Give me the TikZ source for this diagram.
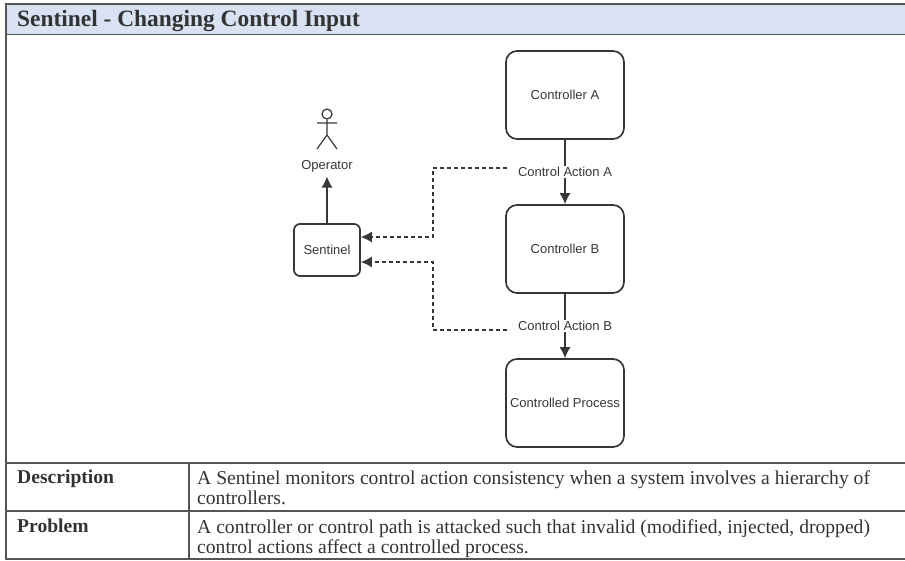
\documentclass[tikz,border=0pt]{standalone}
\usepackage{fontspec}
\setmainfont{Liberation Serif}
\setsansfont{Liberation Sans}
\usepackage[dvipsnames]{xcolor}
\usepackage{tikz}
\usetikzlibrary{arrows.meta}
\definecolor{headblue}{RGB}{217,226,243}
\definecolor{rule}{RGB}{85,85,85}
\definecolor{ink}{RGB}{55,55,55}

\begin{document}
\begin{tikzpicture}[x=1pt, y=-1pt]
		\tikzstyle{block}=[draw=ink, line width=1.7pt, rounded corners=11pt, minimum width=118pt, minimum height=88pt, inner sep=0pt, font=\sffamily\fontsize{13}{15}\selectfont, text=ink]
		\tikzstyle{label}=[inner sep=1.5pt, font=\sffamily\fontsize{13}{15}\selectfont, text=ink]
		\tikzstyle{cell}=[anchor=north west, inner sep=0pt, align=left, text=black!80, font=\fontsize{19.6}{20}\selectfont]
		\tikzstyle{wire}=[-{Latex[length=11pt, width=11pt]}, line width=1.3pt, draw=ink]
		\tikzstyle{tap}=[-{Latex[length=11pt, width=11pt]}, line width=1.3pt, draw=ink, dash pattern=on 4pt off 3pt]
		\useasboundingbox (0, 0) rectangle (905, 561);
		% table
		\fill[headblue] (6, 4) rectangle (905, 34);
		\draw[rule, line width=1.5pt] (905, 4) -- (6, 4) -- (6, 559) -- (905, 559)
		                 (6, 34.5) -- (905, 34.5)
		                 (6, 463) -- (905, 463)
		                 (6, 511) -- (905, 511)
		                 (189, 463) -- (189, 559);
		\node[cell, font=\bfseries\fontsize{23.4}{25}\selectfont] (title) at (17, 10) {Sentinel - Changing Control Input};
		\node[cell, font=\bfseries\fontsize{19.6}{20}\selectfont] (desc) at (17, 470) {Description};
		\node[cell] (desctext) at (197, 470) {A Sentinel monitors control action consistency when a system involves a hierarchy of\\controllers.};
		\node[cell, font=\bfseries\fontsize{19.6}{20}\selectfont] (prob) at (17, 519) {Problem};
		\node[cell] (probtext) at (197, 519) {A controller or control path is attacked such that invalid (modified, injected, dropped)\\control actions affect a controlled process.};
		% blocks
		\node[block] (ca) at (565, 95) {Controller A};
		\node[block] (cb) at (565, 249) {Controller B};
		\node[block] (cp) at (565, 403) {Controlled Process};
		\node[block, rounded corners=6pt, minimum width=66pt, minimum height=52pt] (sen) at (327, 250) {Sentinel};
		% operator
		\node[draw=ink, line width=1.2pt, circle, inner sep=0pt, minimum width=10pt] (head) at (327, 114) {};
		\coordinate (hip) at (327, 135);
		\draw[ink, line width=1.2pt] (head) -- (hip) -- (317, 149) (hip) -- (337, 149) (317, 123) -- (337, 123);
		\node[label] (op) at (327, 166) {Operator};
		% wires
		\node[label] (acta) at (565, 172) {Control Action A};
		\node[label] (actb) at (565, 326) {Control Action B};
		\coordinate (enda) at (507, 168);
		\coordinate (endb) at (507, 330);
		\coordinate (benda) at (433, 168);
		\coordinate (bendb) at (433, 330);
		\coordinate (sena) at ([yshift=13pt]sen.east);
		\coordinate (senb) at ([yshift=-12pt]sen.east);
		\draw[line width=1.3pt, draw=ink] (ca) -- (acta) (cb) -- (actb);
		\draw[wire] (acta) -- (cb);
		\draw[wire] (actb) -- (cp);
		\draw[wire, shorten >=3pt] (sen) -- (op);
		\draw[tap] (enda) -- (benda) |- (sena);
		\draw[tap] (endb) -- (bendb) |- (senb);
	\end{tikzpicture}
\end{document}
